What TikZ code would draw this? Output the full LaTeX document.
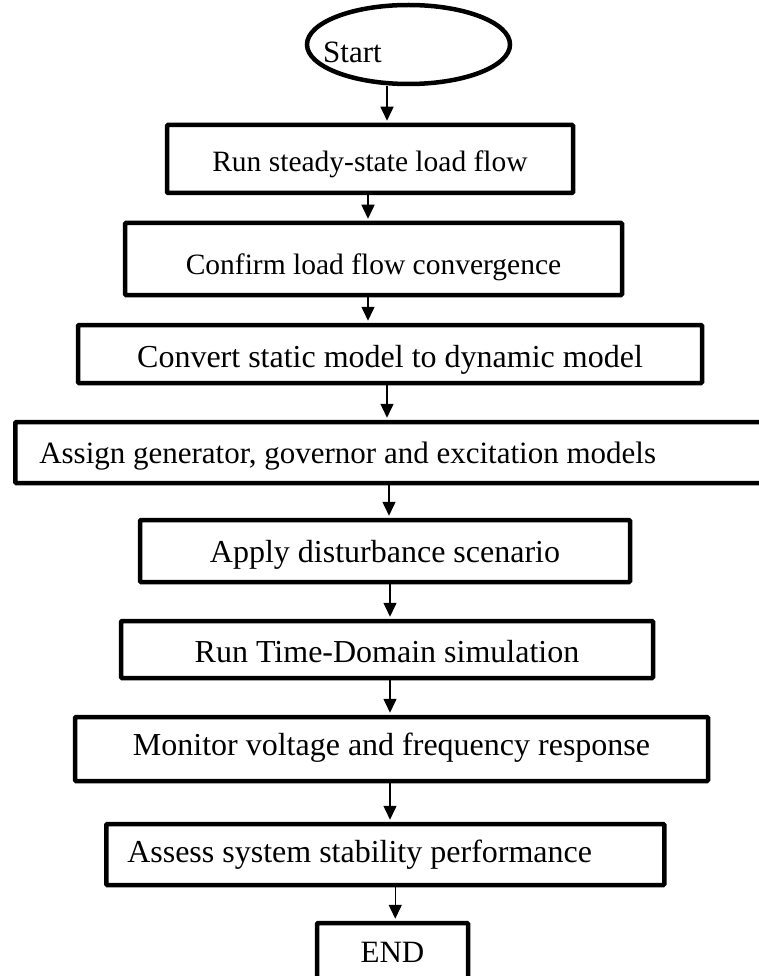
\documentclass[tikz,border=0pt]{standalone}
\usepackage{fontspec}
\setmainfont{Liberation Serif}
\usetikzlibrary{arrows.meta,shapes.geometric}

\tikzset{
  stepbox/.style={draw=black, line width=4.5pt, rounded corners=1pt, fill=white,
    inner sep=0pt, text depth=0pt, font=\fontsize{32}{38}\selectfont},
  small/.style={font=\fontsize{29.5}{35}\selectfont},
  mid/.style={font=\fontsize{31}{37}\selectfont},
  % text height sets where the baseline sits inside a box
  base/.style={text height=#1},
  startshape/.style={draw=black, line width=4.5pt, ellipse, fill=white, inner sep=0pt},
  lbl/.style={inner sep=0pt, font=\fontsize{31}{37}\selectfont},
  flow/.style={draw=black, line width=1.5pt, -{Triangle[length=14pt,width=13pt]}, shorten >=2pt}
}

\begin{document}
\begin{tikzpicture}[x=1pt, y=-1pt]
  \useasboundingbox (0,0) rectangle (758,976);
  \fill[white] (0,0) rectangle (758,976);

  % terminal at the top
  \node[startshape, minimum width=203pt, minimum height=79pt] (start) at (408.5,44.5) {};
  \node[lbl, anchor=base] (starttext) at (352.5,63) {Start};

  % process steps
  \node[stepbox, small, base=25pt, minimum width=406pt, minimum height=68pt] (s1) at (370,159) {Run steady-state load flow};
  \node[stepbox, small, base=31pt, minimum width=497pt, minimum height=72pt] (s2) at (373.5,259) {Confirm load flow convergence};
  \node[stepbox, base=27pt, minimum width=624pt, minimum height=58pt] (s3) at (390,354) {Convert static model to dynamic model};
  % this box runs on past the right edge of the page
  \node[stepbox, mid, base=21pt, anchor=west, minimum height=61pt, inner xsep=24pt]
    (s4) at (13,452.5) {\makebox[760pt][l]{Assign generator, governor and excitation models}};
  \node[stepbox, base=22pt, minimum width=490pt, minimum height=62pt] (s5) at (385,551) {Apply disturbance scenario};
  \node[stepbox, base=25pt, minimum width=532pt, minimum height=57pt] (s6) at (387,649.5) {Run Time-Domain simulation};
  \node[stepbox, base=13pt, minimum width=633pt, minimum height=64pt] (s7) at (391.5,749) {Monitor voltage and frequency response};
  \node[stepbox, base=15pt, anchor=west, minimum height=61pt, inner xsep=21pt]
    (s8) at (104,854.5) {\makebox[516pt][l]{Assess system stability performance}};
  \node[stepbox, mid, base=20pt, minimum width=151pt, minimum height=58pt] (fin) at (392.5,952) {END};

  % connectors
  \draw[flow] ([xshift=-21.5pt]start.south) -- ([xshift=-21.5pt]start.south |- s1.north);
  \draw[flow] ([xshift=-2pt]s1.south) -- ([xshift=-2pt]s1.south |- s2.north);
  \draw[flow] ([xshift=-5.5pt]s2.south) -- ([xshift=-5.5pt]s2.south |- s3.north);
  \draw[flow] ([xshift=-3pt]s3.south) -- ([xshift=-3pt]s3.south |- s4.north);
  \draw[flow] ([xshift=4pt]s5.north |- s4.south) -- ([xshift=4pt]s5.north);
  \draw[flow] ([xshift=5pt]s5.south) -- ([xshift=5pt]s5.south |- s6.north);
  \draw[flow] ([xshift=3pt]s6.south) -- ([xshift=3pt]s6.south |- s7.north);
  \draw[flow] ([xshift=-1.5pt]s7.south) -- ([xshift=-1.5pt]s7.south |- s8.north);
  \draw[flow] ([xshift=10pt]s8.south) -- ([xshift=10pt]s8.south |- fin.north);
\end{tikzpicture}
\end{document}
